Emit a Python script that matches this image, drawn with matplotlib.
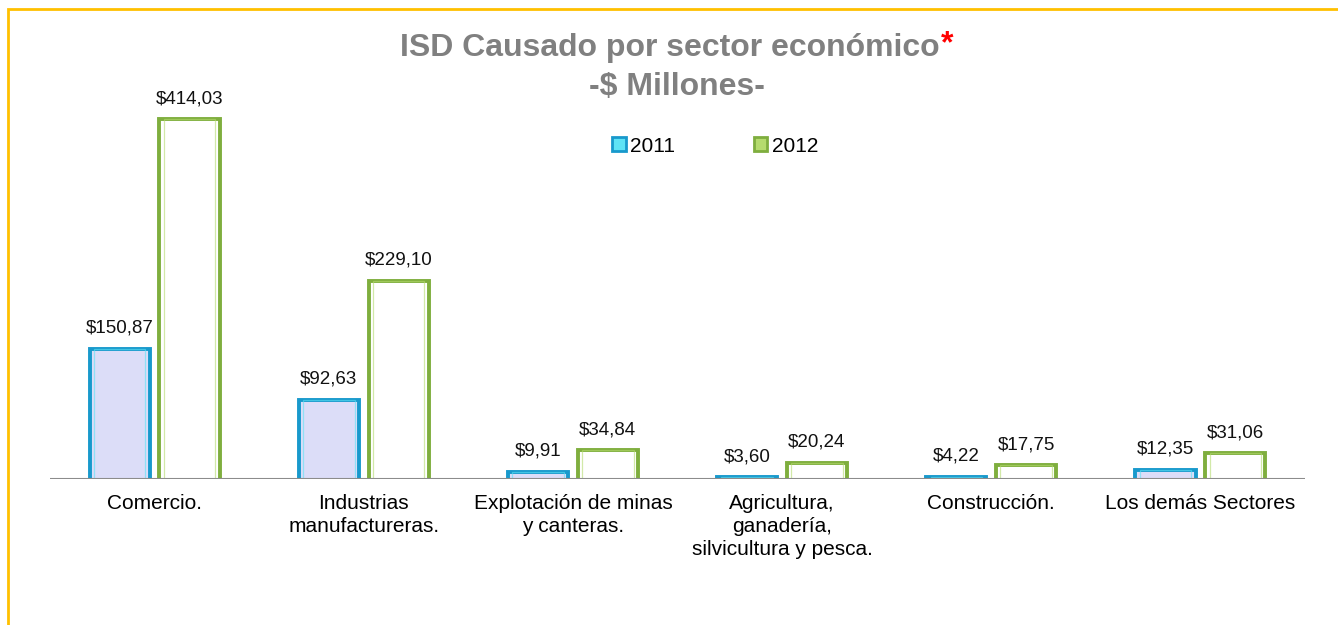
import numpy as np
import matplotlib.pyplot as plt
from matplotlib.patches import Patch, Rectangle

plt.rcParams['font.family'] = ['Liberation Sans', 'DejaVu Sans']

# data
sectores = ["Comercio.", "Industrias\nmanufactureras.", "Explotación de minas\ny canteras.",
            "Agricultura,\nganadería,\nsilvicultura y pesca.", "Construcción.", "Los demás Sectores"]
v2011 = [150.87, 92.63, 9.91, 3.60, 4.22, 12.35]
v2012 = [414.03, 229.10, 34.84, 20.24, 17.75, 31.06]
anios = ["2011", "2012"]

fig = plt.figure(figsize=(13.38, 6.25), dpi=100)
ax = fig.add_axes([50 / 1338, 146 / 625, 1255 / 1338, 379 / 625])

x = np.arange(len(sectores))
w = 0.287
off = 0.167

edge_11, face_11, hi_11 = "#1899CC", "#DCDDF8", "#5FE3F5"
edge_12, face_12, hi_12 = "#7FAE3E", "#FFFFFF", "#B5DB6E"

def fmt(v):
    return "$" + f"{v:.2f}".replace(".", ",")

for vals, pos, ec, fc, hc in [(v2011, x - off, edge_11, face_11, hi_11),
                              (v2012, x + off, edge_12, face_12, hi_12)]:
    ax.bar(pos, vals, w, bottom=-1.5, color=fc, edgecolor=ec, linewidth=2.8, zorder=3)
    # inner bevel highlight
    ax.bar(pos, vals, w * 0.86, bottom=-1.5, color="none", edgecolor=hc, linewidth=0.9,
           alpha=0.6, zorder=4)
    for p, v in zip(pos, vals):
        ax.text(p, v + 12, fmt(v), ha="center", va="bottom", fontsize=13.5, color="#111111")

ax.axhline(0, color="#8C8C8C", linewidth=1.5, zorder=5)
ax.set_xlim(-0.5, len(sectores) - 0.5)
ax.set_ylim(0, 434.6)
ax.set_xticks(x)
ax.set_xticklabels(sectores, fontsize=15, linespacing=1.25)
ax.tick_params(axis="x", length=0, pad=11)
ax.set_yticks([])
for s in ax.spines.values():
    s.set_visible(False)
ax.patch.set_alpha(0)

handles = [Patch(facecolor=hi_11, edgecolor=edge_11, linewidth=2),
           Patch(facecolor=hi_12, edgecolor=edge_12, linewidth=2)]
fig.legend(handles, anios, loc="center", bbox_to_anchor=(715 / 1338, 1 - 146 / 625),
           ncol=2, frameon=False, fontsize=15, handlelength=0.65, handleheight=0.65,
           handletextpad=0.2, columnspacing=3.8)

t1 = fig.text(670 / 1338, 1 - 48 / 625, "ISD Causado por sector económico", ha="center", va="center",
              fontsize=23, fontweight="bold", color="#808080")
fig.text(677 / 1338, 1 - 87 / 625, "-$ Millones-", ha="center", va="center",
         fontsize=23, fontweight="bold", color="#808080")

fig.canvas.draw()
bb = t1.get_window_extent().transformed(fig.transFigure.inverted())
fig.text(bb.x1 + 0.001, 1 - 44 / 625, "*", ha="left", va="center", fontsize=23,
         fontweight="bold", color="#FF0000")

fig.patches.append(Rectangle((7.5 / 1338, -0.2), 1.3, 1.2 - 8.5 / 625, transform=fig.transFigure,
                             fill=False, edgecolor="#FFC000", linewidth=2, zorder=10))

fig.savefig("out.png", dpi=100)
